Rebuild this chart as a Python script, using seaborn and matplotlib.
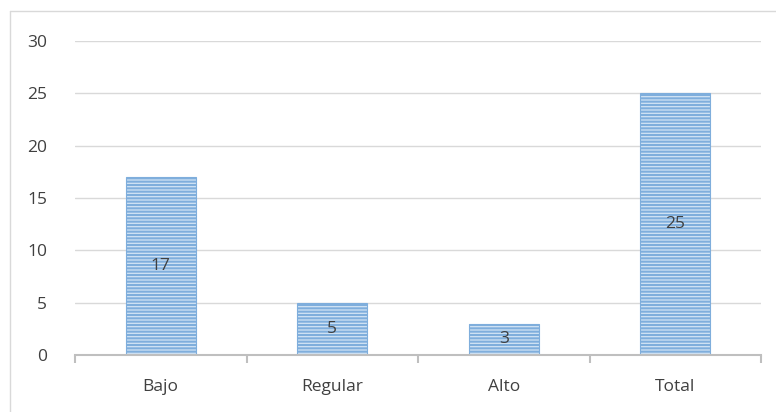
import matplotlib
matplotlib.use("Agg")
import matplotlib.pyplot as plt
import seaborn as sns
import pandas as pd
from matplotlib.lines import Line2D

# Data
categories = ["Bajo", "Regular", "Alto", "Total"]
values = [17, 5, 3, 25]

df = pd.DataFrame({"cat": categories, "val": values})

sns.set_theme(style="white")
plt.rcParams["font.family"] = ["Open Sans", "DejaVu Sans"]
plt.rcParams["hatch.color"] = "#5B9BD5"
plt.rcParams["hatch.linewidth"] = 1.5

fig = plt.figure(figsize=(7.76, 4.12), dpi=100)
ax = fig.add_axes([75 / 776, 57 / 412, 686 / 776, 314 / 412])

sns.barplot(data=df, x="cat", y="val", ax=ax, color="#D2E4F5",
            width=0.41, edgecolor="#7FAEDC", linewidth=0.8, saturation=1)
for p in ax.patches:
    p.set_hatch("-----")

ax.set_ylim(0, 30)
ax.set_xlim(-0.5, 3.5)
ax.set_yticks(range(0, 31, 5))
ax.yaxis.grid(True, color="#D9D9D9", linewidth=1)
ax.set_axisbelow(True)
for s in ["top", "right", "left"]:
    ax.spines[s].set_visible(False)
ax.spines["bottom"].set_color("#BFBFBF")
ax.spines["bottom"].set_linewidth(1.5)

# boundary ticks on x axis
ax.set_xticks([-0.5, 0.5, 1.5, 2.5, 3.5], minor=True)
ax.tick_params(axis="x", which="minor", length=6, width=1.5, color="#BFBFBF",
               direction="out", bottom=True)
ax.tick_params(axis="x", which="major", length=0, pad=17, labelsize=12.5,
               labelcolor="#404040")
ax.tick_params(axis="y", length=0, pad=20, labelsize=12.5, labelcolor="#404040")
ax.set_xlabel("")
ax.set_ylabel("")

for i, v in enumerate(values):
    ax.text(i, v / 2, str(v), ha="center", va="center", fontsize=12.5,
            color="#404040")

# outer chart frame
fig.add_artist(Line2D([10 / 776, 10 / 776], [0, 1 - 11 / 412],
                      transform=fig.transFigure, color="#D9D9D9", linewidth=1))
fig.add_artist(Line2D([10 / 776, 1], [1 - 11 / 412, 1 - 11 / 412],
                      transform=fig.transFigure, color="#D9D9D9", linewidth=1))

fig.savefig("out.png", dpi=100)
